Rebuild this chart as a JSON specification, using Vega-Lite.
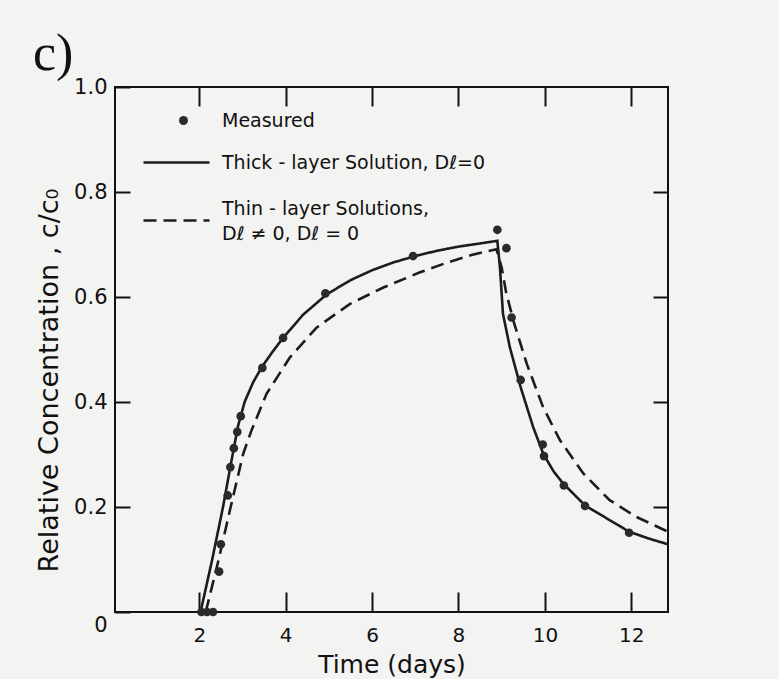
{
  "$schema": "https://vega.github.io/schema/vega-lite/v6.json",
  "width": 553,
  "height": 525,
  "autosize": {"type": "none"},
  "padding": {"left": 115, "top": 87, "right": 111, "bottom": 67},
  "background": "#f3f3f1",
  "title": {"text": "c)", "font": "Liberation Serif", "fontSize": 52, "fontWeight": "normal", "color": "#111111", "anchor": "start", "frame": "group", "dx": -82, "dy": 61, "offset": 15, "baseline": "alphabetic"},
  "config": {
    "view": {"stroke": "#111111", "strokeWidth": 2},
    "axis": {"domain": false, "grid": false, "tickColor": "#111111", "tickWidth": 2, "labelFont": "DejaVu Sans", "labelColor": "#111111", "titleFont": "DejaVu Sans", "titleColor": "#111111", "titleFontWeight": "normal"},
    "legend": {"labelFont": "DejaVu Sans", "labelColor": "#111111", "labelFontSize": 19, "padding": 0}
  },
  "datasets": {
    "curves": [
      {"model": "thick", "t": 2.03, "c": 0},
      {"model": "thick", "t": 2.3, "c": 0.1},
      {"model": "thick", "t": 2.55, "c": 0.2},
      {"model": "thick", "t": 2.75, "c": 0.29},
      {"model": "thick", "t": 2.9, "c": 0.355},
      {"model": "thick", "t": 3.05, "c": 0.4},
      {"model": "thick", "t": 3.25, "c": 0.438},
      {"model": "thick", "t": 3.46, "c": 0.468},
      {"model": "thick", "t": 3.7, "c": 0.496},
      {"model": "thick", "t": 3.94, "c": 0.522},
      {"model": "thick", "t": 4.4, "c": 0.566},
      {"model": "thick", "t": 4.95, "c": 0.605},
      {"model": "thick", "t": 5.5, "c": 0.632},
      {"model": "thick", "t": 6.0, "c": 0.651},
      {"model": "thick", "t": 6.5, "c": 0.666},
      {"model": "thick", "t": 7.0, "c": 0.678},
      {"model": "thick", "t": 7.5, "c": 0.688},
      {"model": "thick", "t": 8.0, "c": 0.696},
      {"model": "thick", "t": 8.5, "c": 0.702},
      {"model": "thick", "t": 8.9, "c": 0.707},
      {"model": "thick", "t": 8.96, "c": 0.656},
      {"model": "thick", "t": 9.03, "c": 0.568},
      {"model": "thick", "t": 9.19, "c": 0.504},
      {"model": "thick", "t": 9.44, "c": 0.428},
      {"model": "thick", "t": 9.73, "c": 0.352},
      {"model": "thick", "t": 9.96, "c": 0.302},
      {"model": "thick", "t": 10.2, "c": 0.268},
      {"model": "thick", "t": 10.42, "c": 0.245},
      {"model": "thick", "t": 10.93, "c": 0.203},
      {"model": "thick", "t": 11.5, "c": 0.175},
      {"model": "thick", "t": 11.95, "c": 0.153},
      {"model": "thick", "t": 12.4, "c": 0.14},
      {"model": "thick", "t": 12.85, "c": 0.129},
      {"model": "thin", "t": 2.15, "c": 0},
      {"model": "thin", "t": 2.45, "c": 0.1},
      {"model": "thin", "t": 2.71, "c": 0.194},
      {"model": "thin", "t": 3.02, "c": 0.302},
      {"model": "thin", "t": 3.21, "c": 0.346},
      {"model": "thin", "t": 3.56, "c": 0.416},
      {"model": "thin", "t": 4.1, "c": 0.485},
      {"model": "thin", "t": 4.72, "c": 0.542},
      {"model": "thin", "t": 5.49, "c": 0.587},
      {"model": "thin", "t": 6.26, "c": 0.618},
      {"model": "thin", "t": 7.11, "c": 0.647},
      {"model": "thin", "t": 7.72, "c": 0.665},
      {"model": "thin", "t": 8.3, "c": 0.68},
      {"model": "thin", "t": 8.88, "c": 0.691},
      {"model": "thin", "t": 9.0, "c": 0.656},
      {"model": "thin", "t": 9.1, "c": 0.61},
      {"model": "thin", "t": 9.27, "c": 0.555},
      {"model": "thin", "t": 9.58, "c": 0.473},
      {"model": "thin", "t": 9.96, "c": 0.39},
      {"model": "thin", "t": 10.35, "c": 0.327},
      {"model": "thin", "t": 10.89, "c": 0.264},
      {"model": "thin", "t": 11.5, "c": 0.213},
      {"model": "thin", "t": 12.12, "c": 0.181},
      {"model": "thin", "t": 12.85, "c": 0.153}
    ],
    "measured": [
      {"kind": "Measured", "t": 2.05, "c": 0},
      {"kind": "Measured", "t": 2.18, "c": 0},
      {"kind": "Measured", "t": 2.32, "c": 0},
      {"kind": "Measured", "t": 2.46, "c": 0.077},
      {"kind": "Measured", "t": 2.5, "c": 0.129},
      {"kind": "Measured", "t": 2.66, "c": 0.222},
      {"kind": "Measured", "t": 2.72, "c": 0.276},
      {"kind": "Measured", "t": 2.8, "c": 0.312},
      {"kind": "Measured", "t": 2.88, "c": 0.343},
      {"kind": "Measured", "t": 2.96, "c": 0.373},
      {"kind": "Measured", "t": 3.46, "c": 0.465},
      {"kind": "Measured", "t": 3.94, "c": 0.522},
      {"kind": "Measured", "t": 4.92, "c": 0.607},
      {"kind": "Measured", "t": 6.95, "c": 0.678},
      {"kind": "Measured", "t": 8.9, "c": 0.728},
      {"kind": "Measured", "t": 9.11, "c": 0.693},
      {"kind": "Measured", "t": 9.23, "c": 0.561},
      {"kind": "Measured", "t": 9.44, "c": 0.442},
      {"kind": "Measured", "t": 9.95, "c": 0.319},
      {"kind": "Measured", "t": 9.98, "c": 0.297},
      {"kind": "Measured", "t": 10.44, "c": 0.241},
      {"kind": "Measured", "t": 10.93, "c": 0.202},
      {"kind": "Measured", "t": 11.95, "c": 0.151}
    ]
  },
  "layer": [
    {
      "data": {"name": "curves"},
      "mark": {"type": "line", "strokeWidth": 2.6, "color": "#1c1c1c", "clip": true},
      "encoding": {
        "x": {"field": "t", "type": "quantitative", "scale": {"domain": [0.05, 12.85], "nice": false, "zero": false},
          "axis": {"orient": "bottom", "values": [2, 4, 6, 8, 10, 12], "tickSize": -20, "labelPadding": 33, "labelFontSize": 20, "title": "Time (days)", "titleFontSize": 25, "titlePadding": 7}},
        "y": {"field": "c", "type": "quantitative", "scale": {"domain": [0, 1], "nice": false},
          "axis": {"orient": "left", "values": [0, 0.2, 0.4, 0.6, 0.8, 1.0], "tickSize": -15, "labelPadding": 23, "labelFontSize": 21,
            "labelExpr": "datum.value == 0 ? '0' : format(datum.value, '.1f')",
            "labelOffset": {"condition": {"test": "datum.value == 0", "value": 13}, "value": 0},
            "title": "Relative Concentration , c/c₀", "titleFontSize": 27, "titlePadding": 10, "titleY": 293}},
        "strokeDash": {"field": "model", "type": "nominal",
          "scale": {"domain": ["thick", "thin"], "range": [[1, 0], [13, 7]]},
          "legend": {"orient": "none", "legendX": 27, "legendY": 41, "title": null, "symbolType": "stroke", "symbolSize": 4356,
            "symbolStrokeWidth": 2.6, "symbolStrokeColor": "#1c1c1c", "labelOffset": 11, "labelLimit": 500, "rowPadding": 13,
            "labelExpr": "datum.value == 'thick' ? 'Thick - layer Solution, Dℓ=0' : ['Thin - layer Solutions,', 'Dℓ ≠ 0, Dℓ = 0']",
            "encode": {"labels": {"update": {"lineHeight": {"value": 25}, "dy": {"signal": "datum.value == 'thin' ? -12 : 0"}}}}}}
      }
    },
    {
      "data": {"name": "measured"},
      "mark": {"type": "point", "filled": true, "size": 75, "color": "#2a2a2a", "opacity": 1},
      "encoding": {
        "x": {"field": "t", "type": "quantitative",
          "axis": {"orient": "top", "values": [2, 4, 6, 8, 10, 12], "tickSize": -19, "labels": false, "title": null}},
        "y": {"field": "c", "type": "quantitative",
          "axis": {"orient": "right", "values": [0.2, 0.4, 0.6, 0.8], "tickSize": -15, "labels": false, "title": null}},
        "shape": {"field": "kind", "type": "nominal", "scale": {"range": ["circle"]},
          "legend": {"orient": "none", "legendX": 59, "legendY": 24, "title": null, "symbolSize": 80, "symbolFillColor": "#2a2a2a",
            "symbolStrokeWidth": 0, "labelOffset": 29}}
      }
    }
  ],
  "resolve": {"axis": {"x": "independent", "y": "independent"}}
}
